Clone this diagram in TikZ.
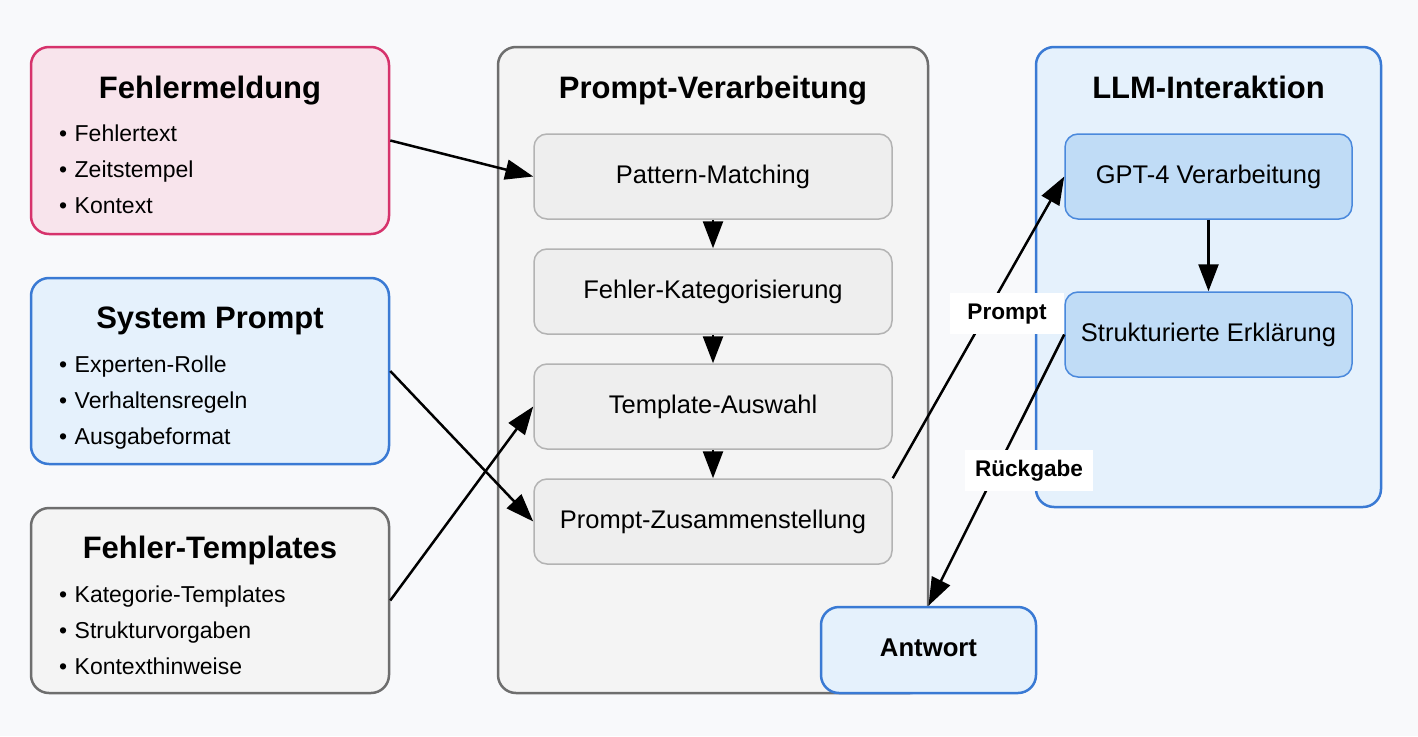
\documentclass[tikz,border=0pt]{standalone}
\usepackage{fontspec}
\setmainfont{Liberation Sans}
\usetikzlibrary{arrows.meta}
\definecolor{bg}{HTML}{F8F9FB}
\definecolor{pinkfill}{HTML}{F8E4EC}
\definecolor{pinkline}{HTML}{D6336C}
\definecolor{bluefill}{HTML}{E5F1FC}
\definecolor{blueline}{HTML}{3A7AD4}
\definecolor{grayfill}{HTML}{F4F4F4}
\definecolor{grayline}{HTML}{6E6E6E}
\definecolor{innerfill}{HTML}{EEEEEE}
\definecolor{innerline}{HTML}{B3B3B3}
\definecolor{ibluefill}{HTML}{C0DCF6}
\definecolor{iblueline}{HTML}{4A89DC}
\begin{document}
\begin{tikzpicture}[x=1pt,y=-1pt,
  outerbox/.style={line width=2.5pt, rounded corners=18pt, inner sep=0pt},
  titletext/.style={font=\fontsize{31}{36}\selectfont\bfseries, anchor=base},
  bullettext/.style={font=\fontsize{23}{28}\selectfont, anchor=base west, inner sep=0pt},
  innerbox/.style={draw=innerline, fill=innerfill, line width=1.5pt, rounded corners=13pt,
    minimum width=358pt, minimum height=85pt, inner sep=0pt,
    font=\fontsize{25.5}{30}\selectfont, text height=18.6pt, text depth=5.4pt},
  iblue/.style={innerbox, draw=iblueline, fill=ibluefill, minimum width=287pt},
  arrowline/.style={line width=2.5pt, -{Triangle[length=28pt,width=20pt]}},
  shortarrow/.style={line width=2.5pt, -{Triangle[length=27pt,width=20pt]}},
  lbl/.style={fill=white, inner sep=0pt, minimum height=41pt,
    font=\fontsize{22.6}{27}\selectfont\bfseries, text height=16.5pt, text depth=4.5pt}
]
\fill[bg] (0,0) rectangle (1418,736);
\useasboundingbox (0,0) rectangle (1418,736);

% Left column
\node[outerbox, draw=pinkline, fill=pinkfill, minimum width=358pt, minimum height=187pt] (fm) at (210,140.5) {};
\node[titletext] (fmt) at (210,98) {Fehlermeldung};
\node[bullettext] (fm1) at (59,141) {\makebox[15.5pt][l]{•}Fehlertext};
\node[bullettext] (fm2) at (59,177) {\makebox[15.5pt][l]{•}Zeitstempel};
\node[bullettext] (fm3) at (59,213) {\makebox[15.5pt][l]{•}Kontext};

\node[outerbox, draw=blueline, fill=bluefill, minimum width=358pt, minimum height=186pt] (sp) at (210,371) {};
\node[titletext] (spt) at (210,328) {System Prompt};
\node[bullettext] (sp1) at (59,372) {\makebox[15.5pt][l]{•}Experten-Rolle};
\node[bullettext] (sp2) at (59,408) {\makebox[15.5pt][l]{•}Verhaltensregeln};
\node[bullettext] (sp3) at (59,444) {\makebox[15.5pt][l]{•}Ausgabeformat};

\node[outerbox, draw=grayline, fill=grayfill, minimum width=358pt, minimum height=185pt] (ft) at (210,600.5) {};
\node[titletext] (ftt) at (210,558) {Fehler-Templates};
\node[bullettext] (ft1) at (59,602) {\makebox[15.5pt][l]{•}Kategorie-Templates};
\node[bullettext] (ft2) at (59,638) {\makebox[15.5pt][l]{•}Strukturvorgaben};
\node[bullettext] (ft3) at (59,674) {\makebox[15.5pt][l]{•}Kontexthinweise};

% Middle column
\node[outerbox, draw=grayline, fill=grayfill, minimum width=430pt, minimum height=646pt] (pv) at (713,370) {};
\node[titletext] (pvt) at (713,98) {Prompt-Verarbeitung};
\node[innerbox] (pm) at (713,176.5) {Pattern-Matching};
\node[innerbox] (fk) at (713,291.5) {Fehler-Kategorisierung};
\node[innerbox] (ta) at (713,406.5) {Template-Auswahl};
\node[innerbox] (pz) at (713,521.5) {Prompt-Zusammenstellung};

% Right column
\node[outerbox, draw=blueline, fill=bluefill, minimum width=345pt, minimum height=460pt] (llm) at (1208.5,277) {};
\node[titletext] (llmt) at (1208.5,98) {LLM-Interaktion};
\node[iblue] (gpt) at (1208.5,176.5) {GPT-4 Verarbeitung};
\node[iblue] (se) at (1208.5,334.5) {Strukturierte Erklärung};

\node[outerbox, draw=blueline, fill=bluefill, minimum width=215pt, minimum height=86pt,
  font=\fontsize{25.7}{30}\selectfont\bfseries, text height=18.6pt, text depth=5.4pt] (aw) at (928.5,650) {Antwort};

% Connectors
\draw[arrowline] (fm.east) -- (pm.west);
\draw[arrowline] (sp.east) -- (pz.west);
\draw[arrowline] (ft.east) -- (ta.west);
\draw[shortarrow] (pm.south) -- (fk.north);
\draw[shortarrow] (fk.south) -- (ta.north);
\draw[shortarrow] (ta.south) -- (pz.north);
\draw[shortarrow] (gpt.south) -- (se.north);
\draw[arrowline] (pz.north east) -- (gpt.west);
\draw[arrowline] (se.west) -- (aw.north);

\node[lbl, minimum width=114pt] (lp) at (1007,313.5) {Prompt};
\node[lbl, minimum width=128pt] (lr) at (1029,470.5) {Rückgabe};
\end{tikzpicture}
\end{document}
